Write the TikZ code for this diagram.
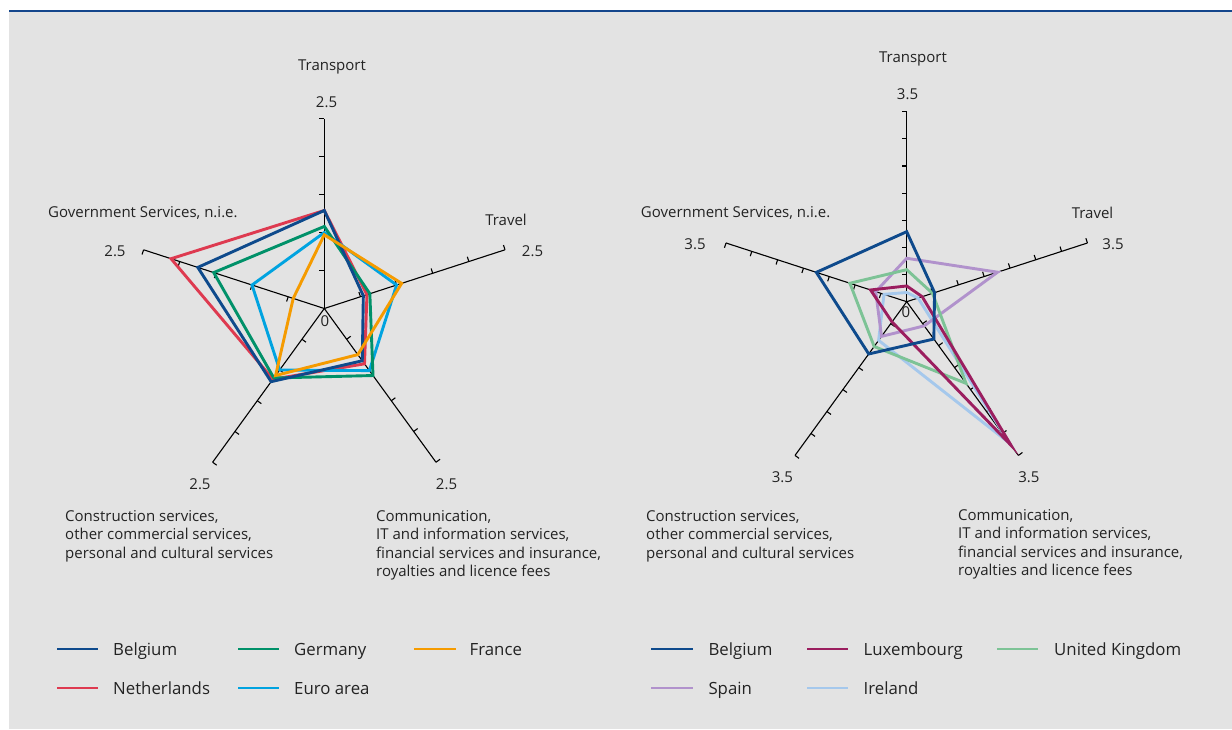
\documentclass[tikz,border=0pt]{standalone}
\usepackage{fontspec}
\setmainfont{Open Sans}
\definecolor{bgc}{RGB}{227,227,227}
\definecolor{topc}{RGB}{20,70,140}
\definecolor{txt}{RGB}{35,35,35}
\definecolor{cbel}{RGB}{14,74,140}
\definecolor{cger}{RGB}{0,145,105}
\definecolor{cfra}{RGB}{245,155,0}
\definecolor{cned}{RGB}{222,58,80}
\definecolor{ceur}{RGB}{0,163,224}
\definecolor{clux}{RGB}{155,30,95}
\definecolor{cuk}{RGB}{125,195,150}
\definecolor{cspa}{RGB}{177,146,204}
\definecolor{cire}{RGB}{165,200,236}
\tikzset{
  axisline/.style={draw=black, line width=1.1pt},
  dataline/.style={line width=2.9pt, line join=miter},
  legline/.style={line width=2.8pt},
  lab/.style={font=\fontsize{15}{18.5}\selectfont, text=txt, inner sep=0pt, anchor=base},
  leglab/.style={font=\fontsize{16.8}{20}\selectfont, text=txt, inner sep=0pt, anchor=base west},
  multilab/.style={font=\fontsize{15}{18.5}\selectfont, text=txt, inner sep=0pt, anchor=north west, align=left},
}
\newcommand\radaraxes[2]{%
  \foreach \a in {90,18,-54,-126,162} {
    \draw[axisline] (0,0) -- (\a:190pt);
    \foreach \k in {1,...,#1} {\draw[axisline] (\a:{\k*#2*1pt}) -- ++({\a+90}:5pt);}
  }}
\newcommand\radarpoly[7]{%
  \draw[dataline,#1] (90:{#2*#7}) -- (18:{#3*#7}) -- (-54:{#4*#7}) -- (-126:{#5*#7}) -- (162:{#6*#7}) -- cycle;}
\begin{document}
\begin{tikzpicture}[x=1pt,y=-1pt]
\useasboundingbox (0,0) rectangle (1232,729);
\fill[bgc] (9,11.5) rectangle (1232,729);
\draw[topc, line width=2pt] (9,11) -- (1232,11);

% ---------- left chart ----------
\begin{scope}[shift={(324.3,308.5)}]
  \coordinate (lc) at (0,0);
  \radaraxes{5}{38}
  \radarpoly{cned}{1.29}{0.59}{0.90}{1.15}{2.12}{76pt}
  \radarpoly{ceur}{1.00}{1.00}{1.01}{1.00}{1.00}{76pt}
  \radarpoly{cger}{1.08}{0.63}{1.09}{1.13}{1.53}{76pt}
  \radarpoly{cbel}{1.29}{0.54}{0.85}{1.19}{1.75}{76pt}
  \radarpoly{cfra}{0.97}{1.07}{0.75}{1.09}{0.43}{76pt}
\end{scope}
\node[lab] (lt) at (332,70.2) {Transport};
\node[lab] (ltv) at (326.5,107.6) {2.5};
\node[lab] (ltr) at (506,225.1) {Travel};
\node[lab] (ltrv) at (532.5,256.6) {2.5};
\node[lab, anchor=base west] (lg) at (48,217.1) {Government Services, n.i.e.};
\node[lab] (lgv) at (115,256.1) {2.5};
\node[lab] (lz) at (325,326.1) {0};
\node[lab] (lcv) at (200,489.1) {2.5};
\node[lab] (lmv) at (446.5,489.1) {2.5};
\node[multilab] (lcl) at (65,510.2) {Construction services,\\other commercial services,\\personal and cultural services};
\node[multilab] (lml) at (376,510.2) {Communication,\\IT and information services,\\financial services and insurance,\\royalties and licence fees};

% ---------- right chart ----------
\begin{scope}[shift={(906.7,301.7)}]
  \coordinate (rc) at (0,0);
  \radaraxes{7}{27.143}
  \radarpoly{cire}{0.17}{0.22}{3.22}{0.88}{0.44}{54.286pt}
  \radarpoly{cspa}{0.80}{1.76}{0.55}{0.79}{0.60}{54.286pt}
  \radarpoly{cuk}{0.59}{0.50}{1.86}{1.02}{1.10}{54.286pt}
  \radarpoly{clux}{0.29}{0.30}{3.27}{0.46}{0.70}{54.286pt}
  \radarpoly{cbel}{1.29}{0.54}{0.85}{1.19}{1.75}{54.286pt}
\end{scope}
\node[lab] (rt) at (913,62.6) {Transport};
\node[lab] (rtv) at (907.5,99.1) {3.5};
\node[lab] (rtr) at (1092.5,218.3) {Travel};
\node[lab] (rtrv) at (1113,249.5) {3.5};
\node[lab, anchor=base west] (rg) at (640.7,217.1) {Government Services, n.i.e.};
\node[lab] (rgv) at (695,249.1) {3.5};
\node[lab] (rz) at (906,317.6) {0};
\node[lab] (rcv) at (782.4,482.5) {3.5};
\node[lab] (rmv) at (1028.9,482.5) {3.5};
\node[multilab] (rcl) at (646,510.2) {Construction services,\\other commercial services,\\personal and cultural services};
\node[multilab] (rml) at (958,509.2) {Communication,\\IT and information services,\\financial services and insurance,\\royalties and licence fees};

% ---------- legends ----------
\coordinate (l1a) at (57,649);   \coordinate (l1b) at (98,649);
\coordinate (l2a) at (238,649);  \coordinate (l2b) at (279,649);
\coordinate (l3a) at (414,649);  \coordinate (l3b) at (456,649);
\coordinate (l4a) at (57,688);   \coordinate (l4b) at (98,688);
\coordinate (l5a) at (238,688);  \coordinate (l5b) at (279,688);
\draw[legline,cbel] (l1a) -- (l1b);
\draw[legline,cger] (l2a) -- (l2b);
\draw[legline,cfra] (l3a) -- (l3b);
\draw[legline,cned] (l4a) -- (l4b);
\draw[legline,ceur] (l5a) -- (l5b);
\node[leglab] (g1) at (113,655) {Belgium};
\node[leglab] (g2) at (294,655) {Germany};
\node[leglab] (g3) at (469.5,655) {France};
\node[leglab] (g4) at (113,694) {Netherlands};
\node[leglab] (g5) at (294,694) {Euro area};

\coordinate (r1a) at (651,649);  \coordinate (r1b) at (693,649);
\coordinate (r2a) at (807,649);  \coordinate (r2b) at (848,649);
\coordinate (r3a) at (997,649);  \coordinate (r3b) at (1038,649);
\coordinate (r4a) at (651,688);  \coordinate (r4b) at (693,688);
\coordinate (r5a) at (807,688);  \coordinate (r5b) at (848,688);
\draw[legline,cbel] (r1a) -- (r1b);
\draw[legline,clux] (r2a) -- (r2b);
\draw[legline,cuk] (r3a) -- (r3b);
\draw[legline,cspa] (r4a) -- (r4b);
\draw[legline,cire] (r5a) -- (r5b);
\node[leglab] (h1) at (708.3,655) {Belgium};
\node[leglab] (h2) at (863.5,655) {Luxembourg};
\node[leglab] (h3) at (1054,655) {United Kingdom};
\node[leglab] (h4) at (708.3,694) {Spain};
\node[leglab] (h5) at (863.5,694) {Ireland};
\end{tikzpicture}
\end{document}
